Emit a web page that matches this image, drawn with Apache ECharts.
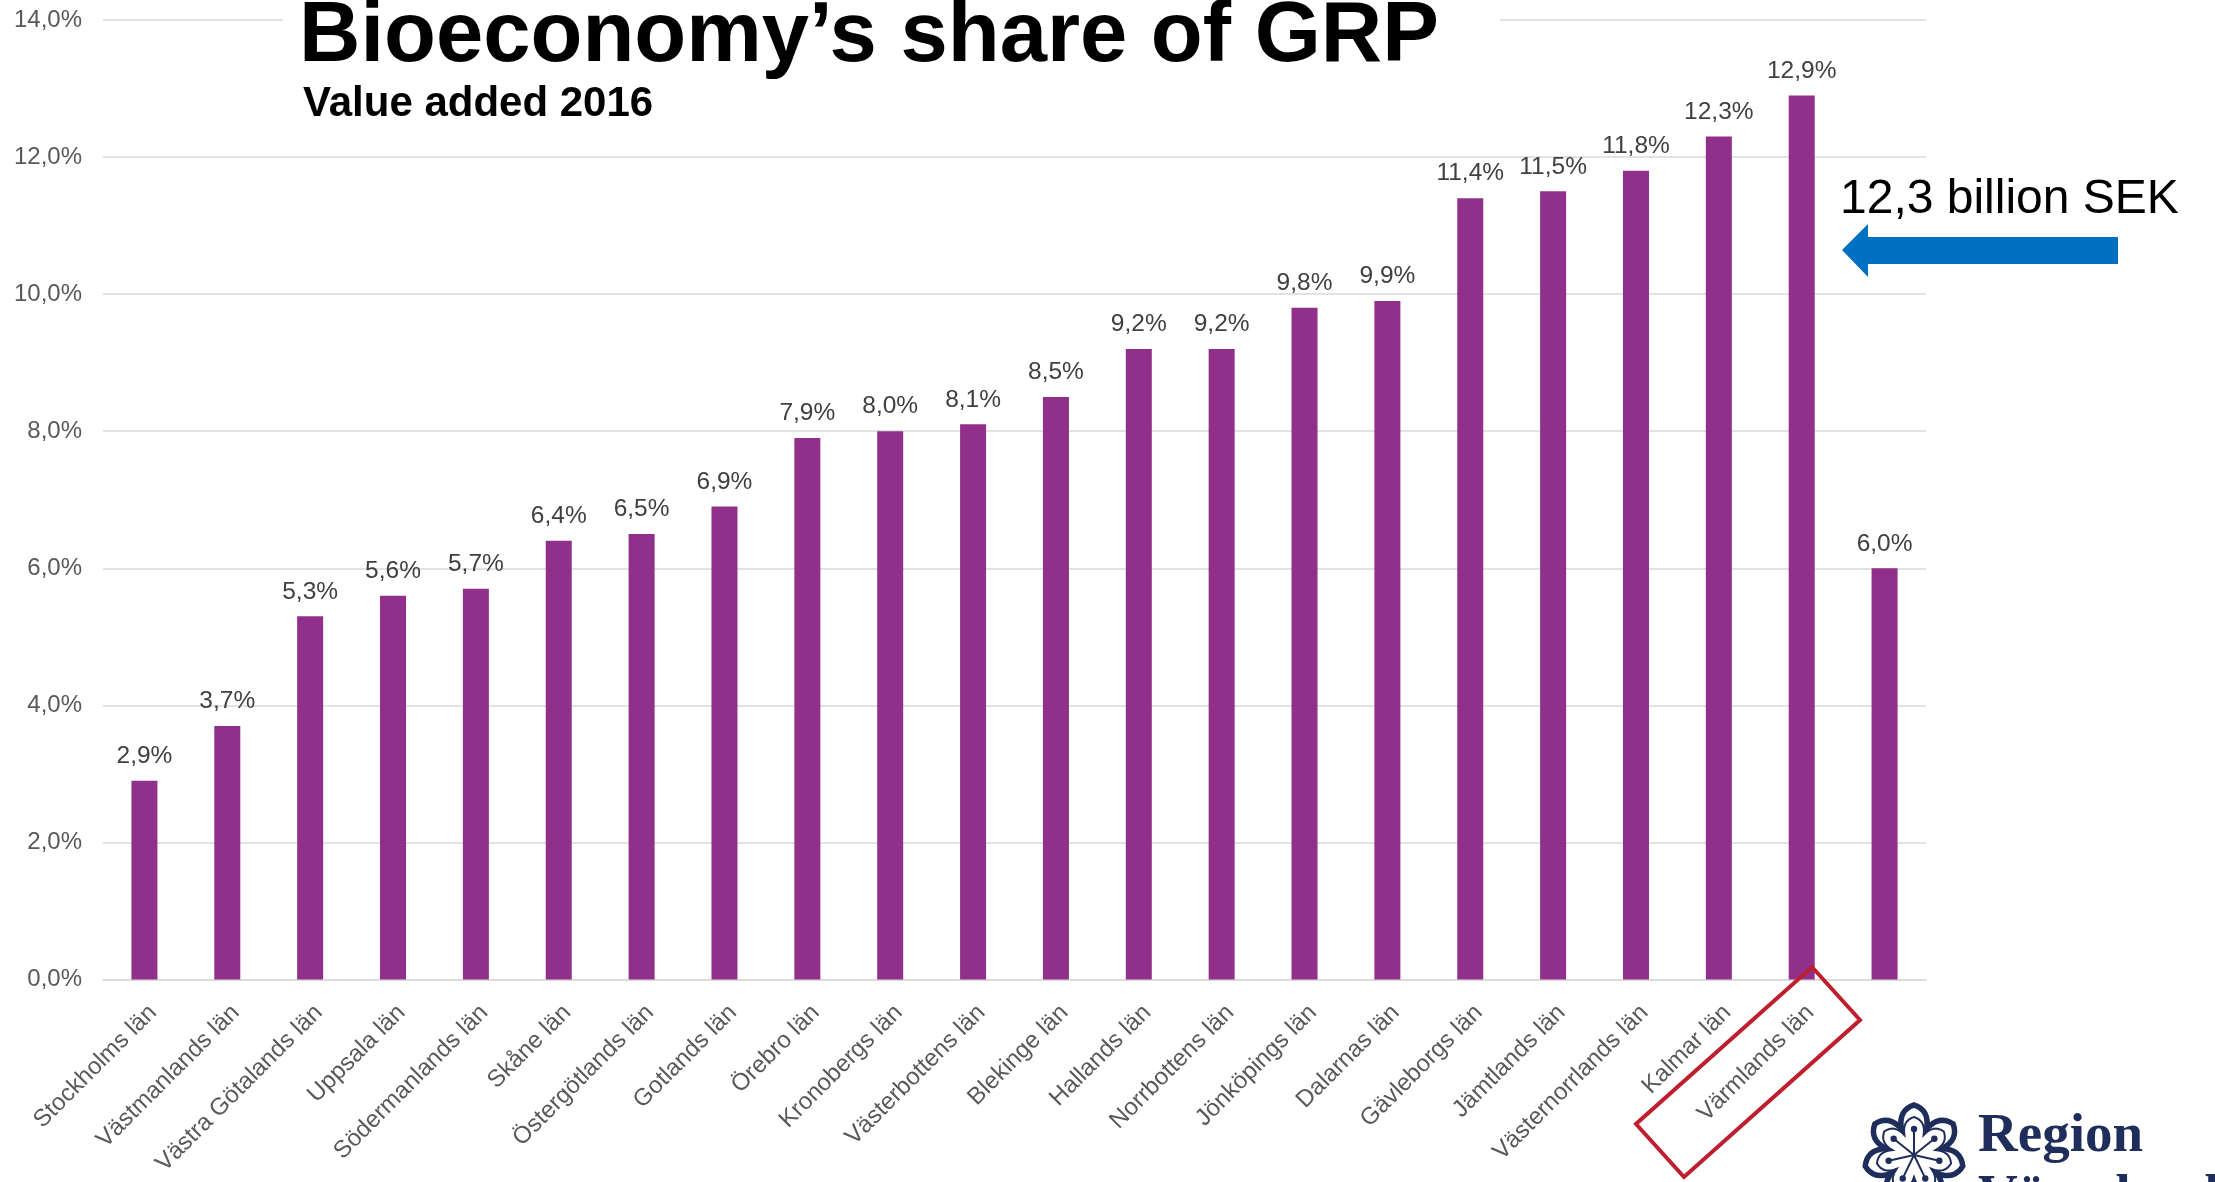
<!DOCTYPE html>
<html><head><meta charset="utf-8">
<script src="https://cdn.jsdelivr.net/npm/echarts@6/dist/echarts.min.js"></script>
<style>html,body{margin:0;padding:0;background:#fff}#c{width:2215px;height:1182px}</style>
</head><body><div id="c"></div>
<script>
const categories = ["Stockholms län","Västmanlands län","Västra Götalands län","Uppsala län","Södermanlands län","Skåne län","Östergötlands län","Gotlands län","Örebro län","Kronobergs län","Västerbottens län","Blekinge län","Hallands län","Norrbottens län","Jönköpings län","Dalarnas län","Gävleborgs län","Jämtlands län","Västernorrlands län","Kalmar län","Värmlands län",""];
const values = [2.9,3.7,5.3,5.6,5.7,6.4,6.5,6.9,7.9,8.0,8.1,8.5,9.2,9.2,9.8,9.9,11.4,11.5,11.8,12.3,12.9,6.0];
const yMin = 0, yMax = 14, yStep = 2;
const titleText = "Bioeconomy’s share of GRP";
const subtitleText = "Value added 2016";
const noteText = "12,3 billion SEK";

const fmt = v => v.toFixed(1).replace('.', ',') + '%';
const FONT = 'Liberation Sans, Arial, sans-serif';

// flower logo outline as sampled polygon
function flowerPoints(cx, cy, R, r, n) {
  const pts = [];
  const q = (p0, c, p1, t) => [
    (1-t)*(1-t)*p0[0] + 2*(1-t)*t*c[0] + t*t*p1[0],
    (1-t)*(1-t)*p0[1] + 2*(1-t)*t*c[1] + t*t*p1[1]];
  const P = (rad, a) => [cx + rad*Math.cos(a), cy + rad*Math.sin(a)];
  for (let i = 0; i < n; i++) {
    const a = -Math.PI/2 + i*2*Math.PI/n;
    const a1 = a + Math.PI/n, an = a + 2*Math.PI/n;
    const tip = P(R, a), val = P(r, a1), tip2 = P(R, an);
    const c1 = P(R*0.95, a + 0.34), c2 = P(R*0.95, an - 0.34);
    for (let k = 0; k < 8; k++) pts.push(q(tip, c1, val, k/8));
    for (let k = 0; k < 8; k++) pts.push(q(val, c2, tip2, k/8));
  }
  return pts;
}
const cx = 1914, cy = 1155;
const logoEls = [
  {type:'polygon', shape:{points: flowerPoints(cx, cy, 50, 29, 7)}, style:{fill:'none', stroke:'#1F2D5A', lineWidth:5.5}, z:100},
  {type:'polygon', shape:{points: flowerPoints(cx, cy, 38, 22, 7)}, style:{fill:'none', stroke:'#1F2D5A', lineWidth:2}, z:100}
];
for (let i = 0; i < 7; i++) {
  const a = -Math.PI/2 + i*2*Math.PI/7;
  const x2 = cx + 26*Math.cos(a), y2 = cy + 26*Math.sin(a);
  logoEls.push({type:'line', shape:{x1:cx, y1:cy, x2:x2, y2:y2}, style:{stroke:'#1F2D5A', lineWidth:2}, z:100});
  logoEls.push({type:'circle', shape:{cx:x2, cy:y2, r:3.2}, style:{fill:'#1F2D5A'}, z:100});
}

const chart = echarts.init(document.getElementById('c'), null, {renderer:'canvas'});
chart.setOption({
  animation: false,
  backgroundColor: '#fff',
  grid: {left: 103, right: 289, top: 20, bottom: 202.5, containLabel: false},
  xAxis: {
    type: 'category', data: categories,
    axisLine: {lineStyle: {color: '#D9D9D9', width: 1.5}},
    axisTick: {show: false},
    axisLabel: {rotate: 45, interval: 0, margin: 21, align: 'right', verticalAlign: 'top',
      color: '#595959', fontSize: 24, fontFamily: FONT}
  },
  yAxis: {
    type: 'value', min: yMin, max: yMax, interval: yStep,
    axisLine: {show: false}, axisTick: {show: false},
    splitLine: {lineStyle: {color: '#D9D9D9', width: 1.5}},
    axisLabel: {formatter: fmt, color: '#595959', fontSize: 24, fontFamily: FONT, margin: 21}
  },
  series: [{
    type: 'bar', data: values, barWidth: 26,
    itemStyle: {color: '#91308A'},
    label: {show: true, position: 'top', distance: 12, formatter: p => fmt(p.value),
      color: '#404040', fontSize: 24.5, fontFamily: FONT}
  }],
  graphic: [
    {type:'rect', shape:{x:283, y:0, width:1217, height:34}, style:{fill:'#fff'}, z:50},
    {type:'text', x:299, y:38, style:{text:titleText, fill:'#000', font:'bold 85px ' + FONT, verticalAlign:'middle'}, z:60},
    {type:'text', x:303, y:104, style:{text:subtitleText, fill:'#000', font:'bold 42px ' + FONT, verticalAlign:'middle'}, z:60},
    {type:'text', x:1840, y:200, style:{text:noteText, fill:'#000', font:'48px ' + FONT, verticalAlign:'middle'}, z:60},
    {type:'polygon', shape:{points:[[1842,250],[1868,224],[1868,237],[2118,237],[2118,264],[1868,264],[1868,277]]}, style:{fill:'#0070C0'}, z:60},
    {type:'polygon', shape:{points:[[1812,967],[1860,1020],[1684,1177],[1636,1124]]}, style:{fill:'none', stroke:'#BE1E2D', lineWidth:4}, z:60},
    {type:'text', x:1978, y:1137, style:{text:'Region', fill:'#1F2D5A', font:'bold 55px Liberation Serif, serif', verticalAlign:'middle'}, z:100},
    {type:'text', x:1978, y:1198, style:{text:'Värmland', fill:'#1F2D5A', font:'bold 55px Liberation Serif, serif', verticalAlign:'middle'}, z:100}
  ].concat(logoEls)
});
</script></body></html>
